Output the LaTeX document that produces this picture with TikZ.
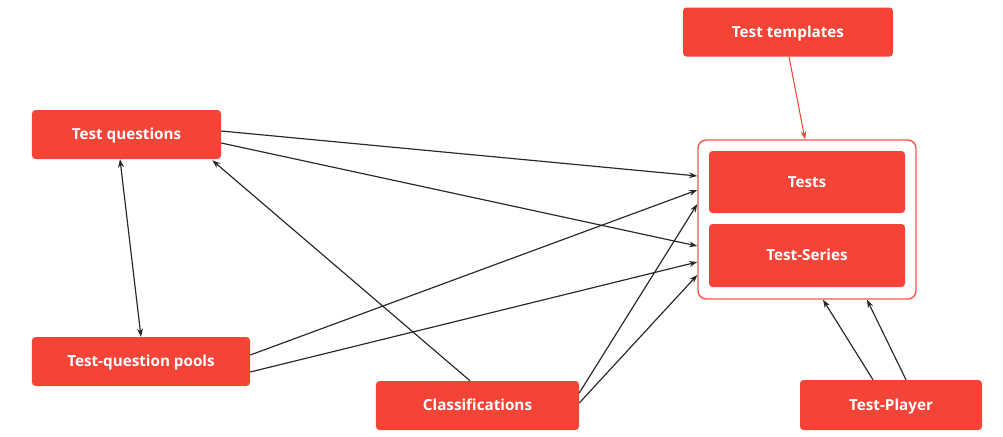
\documentclass[tikz,border=0pt]{standalone}
\usepackage{fontspec}
\setmainfont{Open Sans}
\usetikzlibrary{arrows.meta, calc, positioning}
\definecolor{boxred}{RGB}{244,68,55}
\definecolor{linegray}{RGB}{40,40,40}

\begin{document}
\begin{tikzpicture}[
	x=0.03cm, y=-0.03cm,
	module box/.style={fill=boxred, draw=none, rounded corners=3pt, text=white,
		font=\fontsize{13}{15}\selectfont\bfseries, inner sep=0pt, minimum height=1.47cm,
		text height=9.3pt, text depth=0pt},
	group box/.style={draw=boxred!90!white, line width=1.2pt, rounded corners=7pt,
		fill=white, inner sep=0pt},
	link arrow/.style={-{Stealth[length=7pt, width=5pt]}, linegray, line width=1pt},
	both arrow/.style={{Stealth[length=7pt, width=5pt]}-{Stealth[length=7pt, width=5pt]}, linegray, line width=1pt},
	tpl arrow/.style={-{Stealth[length=7pt, width=5pt]}, boxred, line width=0.9pt},
	]
	\useasboundingbox (0,0) rectangle (1003,436);
	
	% Source modules
	\node[module box, minimum width=6.3cm] (tpl) at (788,32) {Test templates};
	\node[module box, minimum width=5.67cm] (tq) at (126.5,134.5) {Test questions};
	\node[module box, minimum width=6.54cm] (pools) at (141,361.5) {Test-question pools};
	\node[module box, minimum width=6.09cm] (classif) at (477.5,405.5) {Classifications};
	\node[module box, minimum width=5.46cm, minimum height=1.5cm] (player) at (891,405) {Test-Player};
	
	% Tests and Test-Series group
	\node[group box, minimum width=6.54cm, minimum height=4.77cm] (group) at (807,219.5) {};
	\node[module box, minimum width=5.88cm, minimum height=1.86cm] (tests) at (807,182) {Tests};
	\node[module box, minimum width=5.88cm, minimum height=1.89cm] (series) at (807,255.5) {Test-Series};
	
	% Template arrow
	\draw[tpl arrow] ($(tpl.south)+(1,0)$) -- ($(group.north)+(-2,0)$);
	
	% Links into the group
	\draw[link arrow] ($(tq.east)+(0,-3.5)$) -- ($(group.west)+(0,-43.5)$);
	\draw[link arrow] ($(tq.east)+(0,8.5)$) -- ($(group.west)+(0,26.5)$);
	\draw[link arrow] ($(pools.east)+(0,-6.5)$) -- ($(group.west)+(0,-29.5)$);
	\draw[link arrow] ($(pools.east)+(0,10.5)$) -- ($(group.west)+(0,42.5)$);
	\draw[link arrow] ($(classif.east)+(0,-12.5)$) -- ($(group.west)+(0,-15.5)$);
	\draw[link arrow] ($(classif.east)+(0,-2.5)$) -- ($(group.west)+(0,55.5)$);
	
	% Classifications to questions
	\draw[link arrow] ($(classif.north)+(-7.5,0)$) -- ($(tq.south east)+(-9,1)$);
	
	% Questions and pools
	\draw[both arrow] ($(tq.south)+(-6.5,0)$) -- (pools.north);
	
	% Player
	\draw[link arrow] ($(player.north)+(-18,0)$) -- ($(group.south)+(16,0)$);
	\draw[link arrow] ($(player.north)+(15,0)$) -- ($(group.south)+(60,0)$);
	
\end{tikzpicture}
\end{document}
